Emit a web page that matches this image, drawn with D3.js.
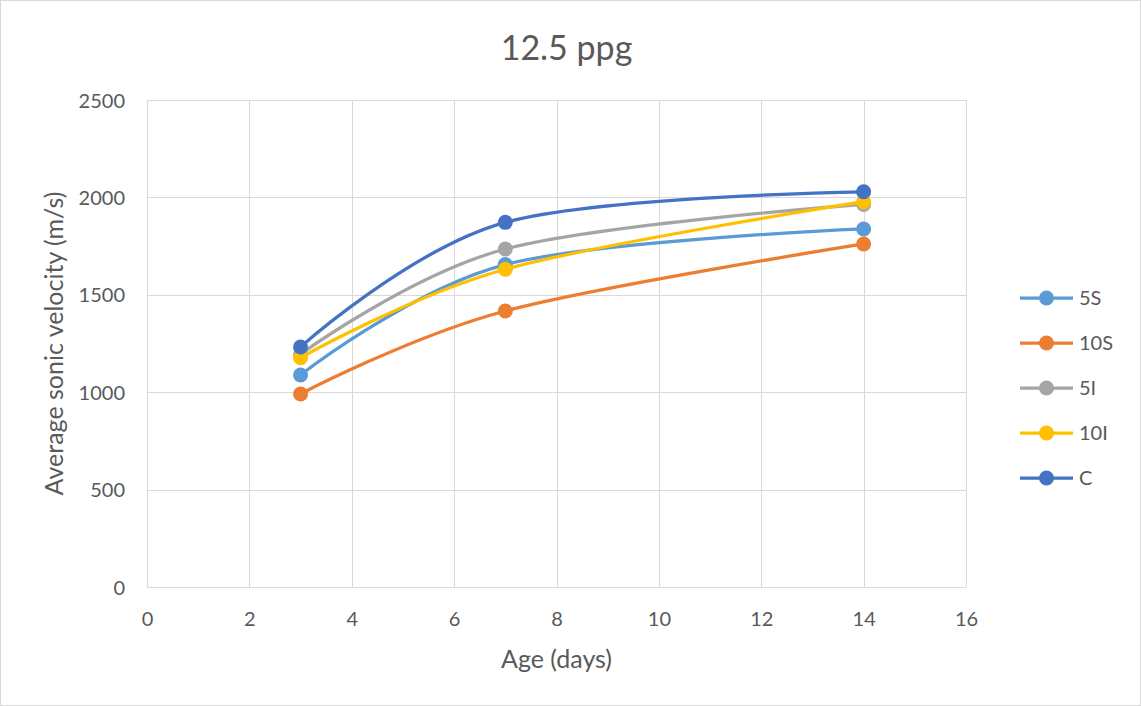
<!DOCTYPE html>
<html>
<head>
<meta charset="utf-8">
<script src="https://cdn.jsdelivr.net/npm/d3@7"></script>
<style>
  html, body { margin: 0; padding: 0; background: #fff; }
  svg { display: block; font-family: Lato, "Open Sans", sans-serif; }
</style>
</head>
<body>
<svg id="chart" width="1141" height="706"></svg>
<script>
// Test ages (days)
const ages = [3, 7, 14];

// Average sonic velocity per mix (m/s)
const seriesNames = ["5S", "10S", "5I", "10I", "C"];
const v5S  = [1088, 1655, 1838];
const v10S = [991, 1417, 1761];
const v5I  = [1195, 1735, 1964];
const v10I = [1177, 1631, 1978];
const vC   = [1232, 1872, 2029];
const seriesColors = ["#5B9BD5", "#ED7D31", "#A5A5A5", "#FFC000", "#4472C4"];

const xTicks = [0, 2, 4, 6, 8, 10, 12, 14, 16];
const yTicks = [0, 500, 1000, 1500, 2000, 2500];

const values = [v5S, v10S, v5I, v10I, vC];
const series = seriesNames.map((name, i) => ({
  name,
  color: seriesColors[i],
  points: ages.map((a, j) => ({ x: a, y: values[i][j] }))
}));

const svg = d3.select("#chart");
const W = 1141, H = 706;
const plot = { left: 147, right: 966, top: 100, bottom: 587 };
const textColor = "#595959";
const gridColor = "#D9D9D9";

// chart frame
svg.append("rect")
  .attr("x", 0.5).attr("y", 0.5)
  .attr("width", W - 1).attr("height", H - 1)
  .attr("fill", "#fff").attr("stroke", "#D9D9D9");

const x = d3.scaleLinear().domain([0, 16]).range([plot.left, plot.right]);
const y = d3.scaleLinear().domain([0, 2500]).range([plot.bottom, plot.top]);

// gridlines
const grid = svg.append("g");
grid.selectAll("line.h").data(yTicks).join("line")
  .attr("x1", plot.left).attr("x2", plot.right)
  .attr("y1", d => Math.round(y(d)) + 0.5).attr("y2", d => Math.round(y(d)) + 0.5)
  .attr("stroke", gridColor).attr("stroke-width", 1);
grid.selectAll("line.v").data(xTicks).join("line")
  .attr("y1", plot.top).attr("y2", plot.bottom)
  .attr("x1", d => Math.round(x(d)) + 0.5).attr("x2", d => Math.round(x(d)) + 0.5)
  .attr("stroke", gridColor).attr("stroke-width", 1);

// axes (labels only; lines come from the grid)
const xAxis = svg.append("g")
  .attr("transform", `translate(0,${plot.bottom})`)
  .call(d3.axisBottom(x).tickValues(xTicks).tickFormat(d3.format("d")).tickSize(0));
const yAxis = svg.append("g")
  .attr("transform", `translate(${plot.left},0)`)
  .call(d3.axisLeft(y).tickValues(yTicks).tickFormat(d3.format("d")).tickSize(0).tickPadding(22));
[xAxis, yAxis].forEach(g => {
  g.select(".domain").remove();
  g.selectAll("text")
    .attr("fill", textColor)
    .style("font-size", "20px")
    .style("font-family", "Lato, 'Open Sans', sans-serif");
});
yAxis.selectAll("text").attr("dy", "0.35em");
xAxis.selectAll("text").attr("dy", "0.35em").attr("y", 32);

// series lines and markers
const line = d3.line()
  .x(d => x(d.x)).y(d => y(d.y))
  .curve(d3.curveCatmullRom.alpha(0));

series.forEach(s => {
  const g = svg.append("g");
  g.append("path")
    .datum(s.points)
    .attr("d", line)
    .attr("fill", "none")
    .attr("stroke", s.color)
    .attr("stroke-width", 3.25)
    .attr("stroke-linecap", "round");
  g.selectAll("circle").data(s.points).join("circle")
    .attr("cx", d => x(d.x)).attr("cy", d => y(d.y))
    .attr("r", 7.5)
    .attr("fill", s.color);
});

// title
svg.append("text")
  .attr("x", (plot.left + plot.right) / 2 + 10)
  .attr("y", 60)
  .attr("text-anchor", "middle")
  .attr("fill", textColor)
  .style("font-size", "34px")
  .text("12.5 ppg");

// axis titles
svg.append("text")
  .attr("x", (plot.left + plot.right) / 2)
  .attr("y", 668)
  .attr("text-anchor", "middle")
  .attr("fill", textColor)
  .style("font-size", "25px")
  .text("Age (days)");

svg.append("text")
  .attr("transform", `translate(63,${(plot.top + plot.bottom) / 2}) rotate(-90)`)
  .attr("text-anchor", "middle")
  .attr("fill", textColor)
  .style("font-size", "25px")
  .text("Average sonic velocity (m/s)");

// legend
const legend = svg.append("g").attr("transform", "translate(1020,298)");
const items = legend.selectAll("g").data(series).join("g")
  .attr("transform", (d, i) => `translate(0,${i * 45})`);
items.append("line")
  .attr("x1", 0).attr("x2", 53).attr("y1", 0).attr("y2", 0)
  .attr("stroke", d => d.color).attr("stroke-width", 3.25);
items.append("circle")
  .attr("cx", 26.5).attr("cy", 0).attr("r", 7.5)
  .attr("fill", d => d.color);
items.append("text")
  .attr("x", 59).attr("y", 0).attr("dy", "0.35em")
  .attr("fill", textColor)
  .style("font-size", "20px")
  .text(d => d.name);
</script>
</body>
</html>
